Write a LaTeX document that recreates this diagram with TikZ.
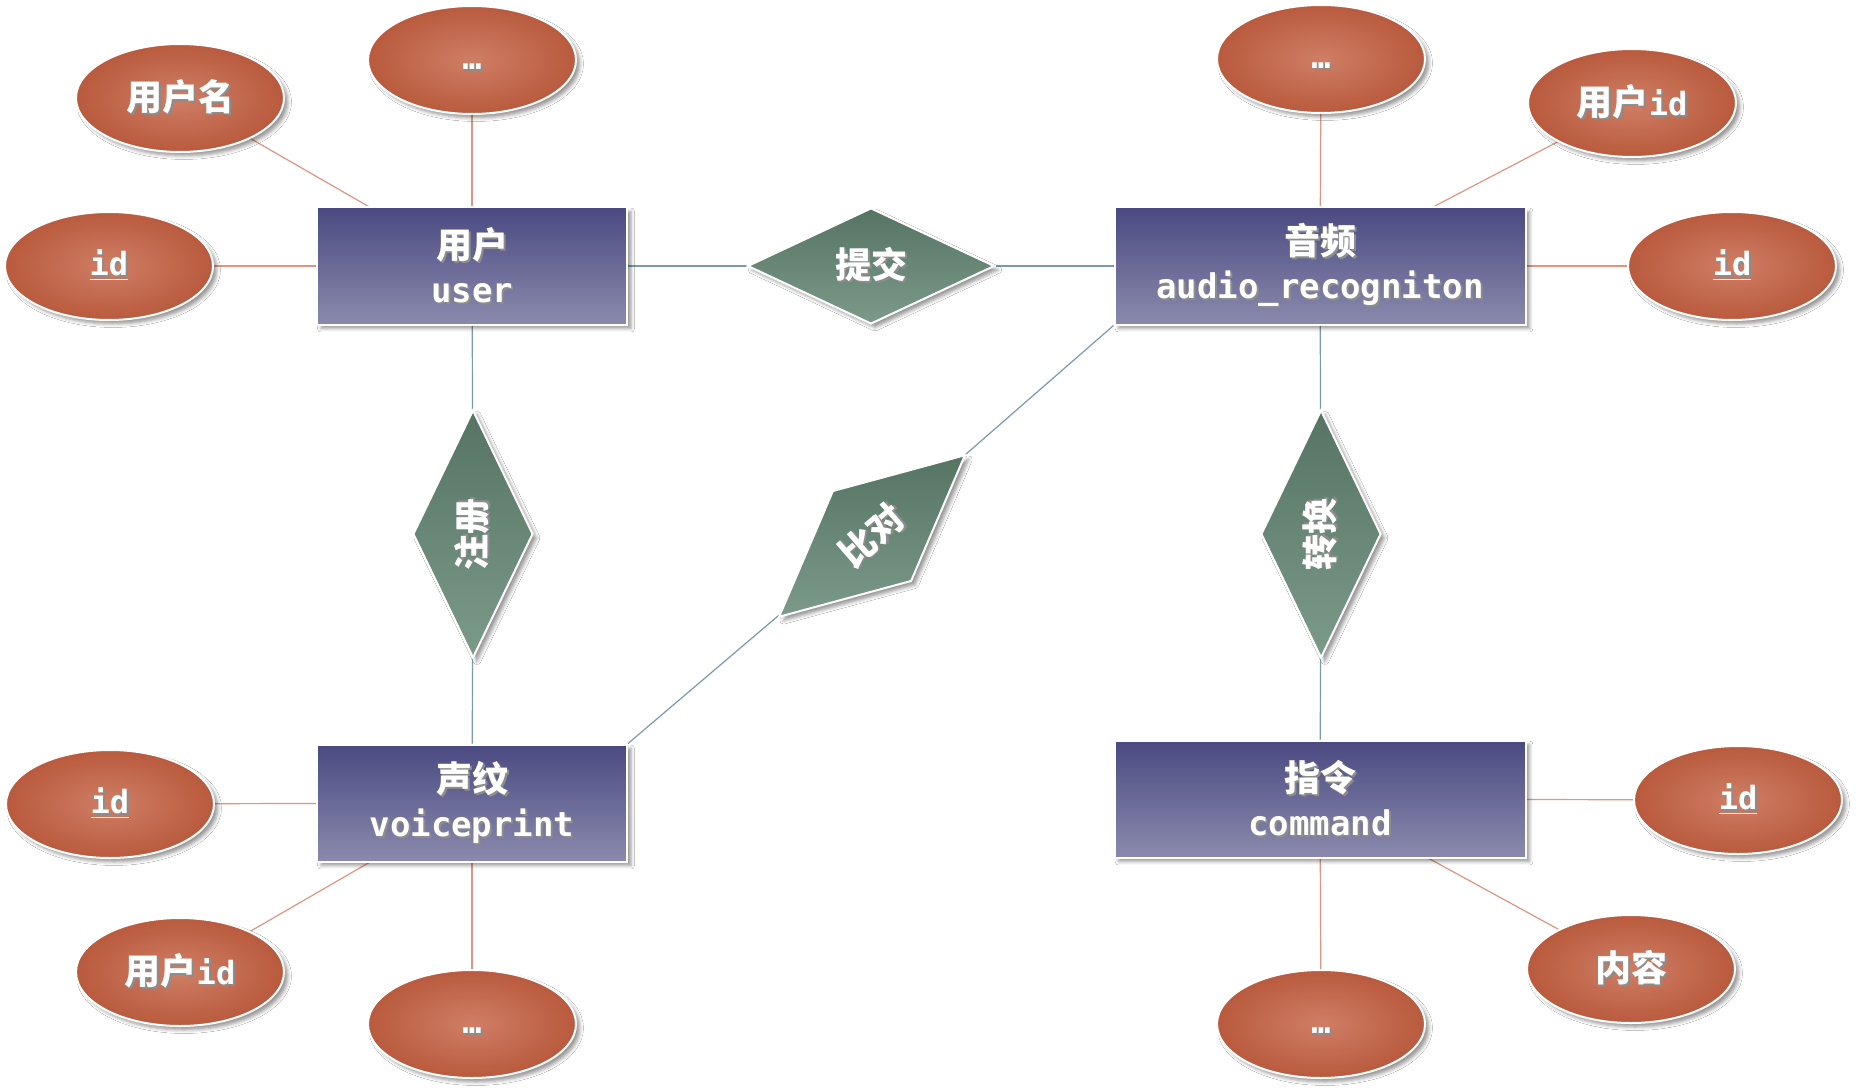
\documentclass[tikz,border=0pt]{standalone}
\usepackage{fontspec}
\usepackage{graphicx}
\setmonofont{DejaVu Sans Mono}
\newfontfamily\cjk{Noto Sans CJK SC}
\usepackage{tikz}
\usetikzlibrary{shapes.geometric,shadows.blur,backgrounds}
\definecolor{entTop}{HTML}{4A4A82}
\definecolor{entBot}{HTML}{8B8AAD}
\definecolor{relTop}{HTML}{557464}
\definecolor{relBot}{HTML}{7C9A8A}
\definecolor{attIn}{HTML}{CF7E66}
\definecolor{attOut}{HTML}{B95A3D}
\definecolor{relLine}{HTML}{7A9BAA}
\definecolor{attLine}{HTML}{DE9681}
\newcommand{\shtxt}[1]{\makebox[0pt][l]{\kern1pt\raisebox{-1pt}{\color{black!45}#1}}#1}
\newcommand{\monosm}{\ttfamily\fontsize{16pt}{20pt}\selectfont}
\newcommand{\monobig}{\ttfamily\fontsize{17pt}{22pt}\selectfont}
\newcommand{\moredots}{\vphantom{Ag}\shtxt{\monosm …}}
\tikzset{
er_font/.style = {font=\cjk\bfseries\fontsize{18pt}{22pt}\selectfont, text=white},
er_e/.style = {er_font, rectangle, align=center, inner sep=0pt, draw=white, line width=1pt,
top color=entTop, bottom color=entBot, minimum height=58.5pt,
blur shadow={shadow xshift=2pt, shadow yshift=-2pt, shadow opacity=40}},% entite
er_r/.style = {er_font, diamond, inner sep=0pt, draw=white, line width=1pt,
top color=relTop, bottom color=relBot,
blur shadow={shadow xshift=2pt, shadow yshift=-2pt, shadow opacity=40}},% relation
er_a/.style = {er_font, ellipse, inner sep=0pt, draw=white, line width=1pt,
inner color=attIn, outer color=attOut, minimum width=104pt, minimum height=54pt,
blur shadow={shadow xshift=2pt, shadow yshift=-2pt, shadow opacity=40}},% attribut
rel_line/.style = {draw=relLine, line width=0.6pt},
att_line/.style = {draw=attLine, line width=0.6pt}
}
\begin{document}
\begin{tikzpicture}[x=0.5pt, y=-0.5pt]
	\path[use as bounding box] (0,0) rectangle (1856,1091);
	% entites
	\node [er_e, minimum width=155pt] (user) at (472,266)
	  {\shtxt{用户}\\\shtxt{\monobig user}};
	\node [er_e, minimum width=205.5pt] (audio) at (1320,266)
	  {\shtxt{音频}\\\shtxt{\monobig audio\_recogniton}};
	\node [er_e, minimum width=155pt] (vp) at (472,803)
	  {\shtxt{声纹}\\\shtxt{\monobig voiceprint}};
	\node [er_e, minimum width=205.5pt] (cmd) at (1320,799)
	  {\shtxt{指令}\\\shtxt{\monobig command}};
	% relations
	\node [er_r, minimum width=123.5pt, minimum height=58pt] (submit) at (871,266) {\shtxt{提交}};
	\node [er_r, minimum width=60pt, minimum height=124pt] (reg) at (473,534) {\rotatebox{90}{\shtxt{注册}}};
	\node [er_r, minimum width=60pt, minimum height=124pt] (conv) at (1321,534) {\rotatebox{90}{\shtxt{转换}}};
	\node [er_r, minimum width=123.5pt, minimum height=60pt, rotate=41] (cmp) at (872,536) {\shtxt{比对}};
	% attributs
	\node [er_a] (user_name) at (180,98) {\shtxt{用户名}};
	\node [er_a] (user_more) at (472,60) {\moredots};
	\node [er_a] (user_id) at (109,266) {\shtxt{\monosm\underline{id}}};
	\node [er_a] (audio_more) at (1321,59) {\moredots};
	\node [er_a] (audio_uid) at (1632,103) {\shtxt{用户{\monosm id}}};
	\node [er_a] (audio_id) at (1732,266) {\shtxt{\monosm\underline{id}}};
	\node [er_a] (vp_id) at (110,804) {\shtxt{\monosm\underline{id}}};
	\node [er_a] (vp_uid) at (180,972) {\shtxt{用户{\monosm id}}};
	\node [er_a] (vp_more) at (472,1024) {\moredots};
	\node [er_a] (cmd_id) at (1738,800) {\shtxt{\monosm\underline{id}}};
	\node [er_a] (cmd_text) at (1631,969) {\shtxt{内容}};
	\node [er_a] (cmd_more) at (1321,1024) {\moredots};
	% liens
	\begin{scope}[on background layer]
	  \fill [white] (0,0) rectangle (1856,1091);
	  \draw [rel_line] (user) -- (submit) -- (audio);
	  \draw [rel_line] (user) -- (reg) -- (vp);
	  \draw [rel_line] (audio) -- (conv) -- (cmd);
	  \draw [rel_line] (vp.north east) -- (cmp.center) -- (audio.south west);
	  \foreach \a in {user_name, user_more, user_id} \draw [att_line] (user.center) -- (\a.center);
	  \foreach \a in {audio_more, audio_uid, audio_id} \draw [att_line] (audio.center) -- (\a.center);
	  \foreach \a in {vp_id, vp_uid, vp_more} \draw [att_line] (vp.center) -- (\a.center);
	  \foreach \a in {cmd_id, cmd_text, cmd_more} \draw [att_line] (cmd.center) -- (\a.center);
	\end{scope}
\end{tikzpicture}
\end{document}
